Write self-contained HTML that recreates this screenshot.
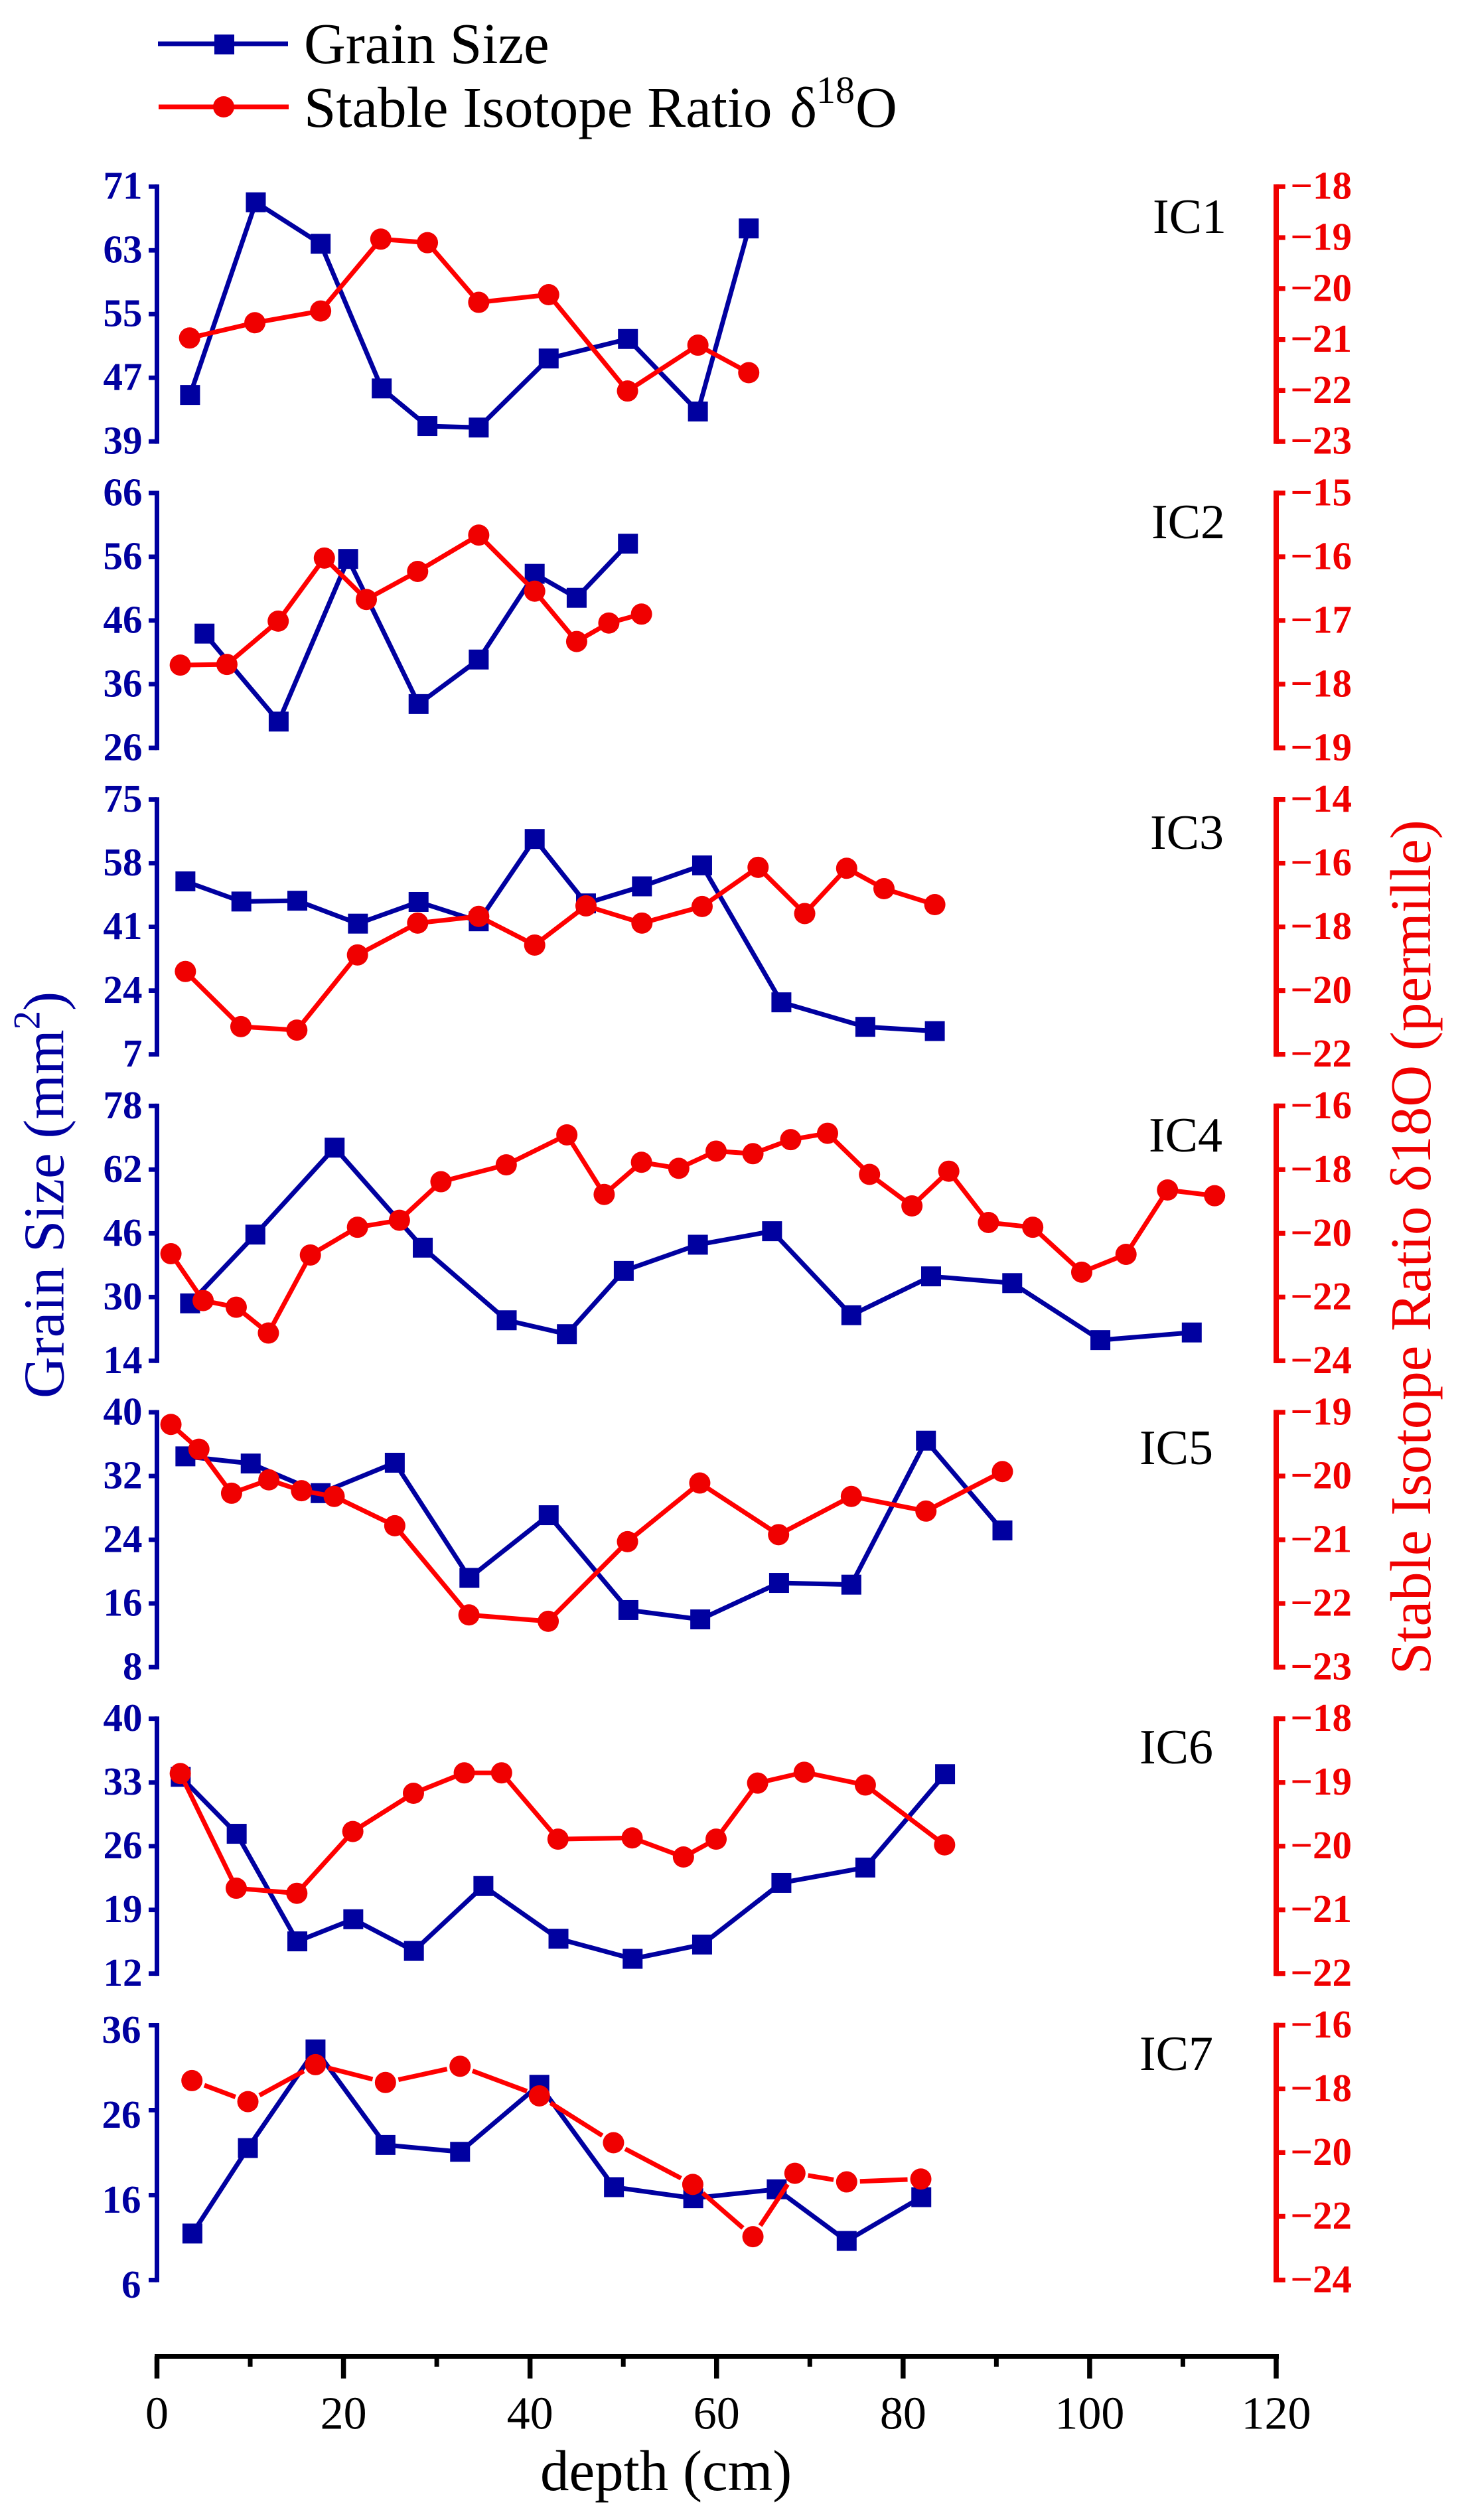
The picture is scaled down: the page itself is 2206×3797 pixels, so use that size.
<!DOCTYPE html>
<html lang="en">
<head>
<meta charset="utf-8">
<title>Grain size and stable isotope ratio by depth</title>
<style>
html,body{margin:0;padding:0;background:#fff;}
svg{display:block;}
text{font-family:"Liberation Serif",serif;}
</style>
</head>
<body>
<svg id="chart" xmlns="http://www.w3.org/2000/svg" width="2206" height="3797" viewBox="0 0 2206 3797">
  <rect x="0" y="0" width="2206" height="3797" fill="#ffffff"/>
  <g>
    <g>
      <line x1="238" x2="434" y1="66" y2="66" stroke="#0000a0" stroke-width="7"/>
      <rect x="323" y="52" width="30" height="30" fill="#0000a0"/>
      <text x="458" y="95" font-size="87" fill="#000">Grain Size</text>
    </g>
    <g>
      <line x1="239" x2="435" y1="161" y2="161" stroke="#ff0000" stroke-width="7"/>
      <circle cx="337" cy="161" r="16" fill="#f00000"/>
      <text x="458" y="191" font-size="87" fill="#000">Stable Isotope Ratio <tspan x="1190">δ</tspan><tspan x="1230" font-size="58" dy="-36">18</tspan><tspan x="1289" dy="36">O</tspan></text>
    </g>
  </g>
  <text transform="translate(95.7 2107) rotate(-90)" font-size="87" fill="#0000a0">Grain Size (mm<tspan font-size="57" dy="-36">2</tspan><tspan dy="36">)</tspan></text>
  <text transform="translate(2155 2523) rotate(-90)" font-size="87" fill="#f00000">Stable Isotope Ratio δ18O (permille)</text>
  <text x="814" y="3752" font-size="87" fill="#000">depth (cm)</text>
  <text x="1737" y="351" font-size="74" fill="#000">IC1</text>
  <text x="1735" y="811" font-size="74" fill="#000">IC2</text>
  <text x="1733" y="1279" font-size="74" fill="#000">IC3</text>
  <text x="1731" y="1735" font-size="74" fill="#000">IC4</text>
  <text x="1717" y="2206" font-size="74" fill="#000">IC5</text>
  <text x="1717" y="2657" font-size="74" fill="#000">IC6</text>
  <text x="1717" y="3119" font-size="74" fill="#000">IC7</text>
  <g id="panels"></g>
  <g id="xaxis"></g>
</svg>
<script>
const depthTicks = [0, 20, 40, 60, 80, 100, 120];
const depthMinorTicks = [10, 30, 50, 70, 90, 110];

const ic1SizeTicks = [71, 63, 55, 47, 39];
const ic1IsoTicks = [-18, -19, -20, -21, -22, -23];
const ic1SizeDepth = [3.55, 10.6, 17.55, 24.1, 29, 34.5, 42, 50.5, 58, 63.45];
const ic1SizeValues = [44.84, 69.03, 63.82, 45.66, 40.93, 40.75, 49.42, 51.87, 42.76, 65.75];
const ic1IsoDepth = [3.5, 10.5, 17.55, 24, 29, 34.5, 42, 50.45, 58, 63.45];
const ic1IsoValues = [-20.97, -20.67, -20.44, -19.03, -19.10, -20.27, -20.12, -22.01, -21.11, -21.65];

const ic2SizeTicks = [66, 56, 46, 36, 26];
const ic2IsoTicks = [-15, -16, -17, -18, -19];
const ic2SizeDepth = [5.1, 13.05, 20.5, 28.05, 34.5, 40.5, 45, 50.5];
const ic2SizeValues = [43.94, 30.13, 55.66, 32.88, 39.87, 53.32, 49.56, 58.05];
const ic2IsoDepth = [2.5, 7.5, 13, 17.95, 22.45, 27.95, 34.5, 40.5, 45, 48.45, 51.95];
const ic2IsoValues = [-17.70, -17.69, -17.01, -16.02, -16.67, -16.23, -15.66, -16.54, -17.33, -17.04, -16.90];

const ic3SizeTicks = [75, 58, 41, 24, 7];
const ic3IsoTicks = [-14, -16, -18, -20, -22];
const ic3SizeDepth = [3.05, 9.05, 15.05, 21.55, 28.05, 34.5, 40.5, 46, 52, 58.45, 66.95, 75.95, 83.4];
const ic3SizeValues = [53.15, 47.77, 47.98, 41.87, 47.66, 42.49, 64.45, 47.27, 51.82, 57.42, 20.88, 14.33, 13.2];
const ic3IsoDepth = [3.05, 9, 15, 21.5, 27.95, 34.5, 40.5, 46, 52, 58.45, 64.45, 69.45, 73.95, 77.95, 83.4];
const ic3IsoValues = [-19.40, -21.13, -21.24, -18.88, -17.88, -17.67, -18.57, -17.34, -17.88, -17.36, -16.13, -17.58, -16.16, -16.80, -17.30];

const ic4SizeTicks = [78, 62, 46, 30, 14];
const ic4IsoTicks = [-16, -18, -20, -22, -24];
const ic4SizeDepth = [3.55, 10.55, 19.05, 28.5, 37.5, 43.95, 50.05, 58, 65.95, 74.45, 83, 91.7, 101.15, 110.95];
const ic4SizeValues = [28.41, 45.68, 67.51, 42.4, 24.17, 20.68, 36.57, 43.14, 46.53, 25.44, 35.19, 33.5, 19.19, 21.1];
const ic4IsoDepth = [1.5, 4.95, 8.5, 11.95, 16.45, 21.5, 26, 30.45, 37.45, 43.95, 47.95, 51.95, 55.95, 59.95, 63.9, 67.95, 71.9, 76.4, 80.95, 84.9, 89.15, 93.9, 99.15, 103.9, 108.35, 113.4];
const ic4IsoValues = [-20.64, -22.11, -22.32, -23.13, -20.68, -19.81, -19.59, -18.38, -17.85, -16.91, -18.78, -17.77, -17.96, -17.42, -17.5, -17.06, -16.86, -18.15, -19.14, -18.05, -19.66, -19.81, -21.22, -20.66, -18.64, -18.82];

const ic5SizeTicks = [40, 32, 24, 16, 8];
const ic5IsoTicks = [-19, -20, -21, -22, -23];
const ic5SizeDepth = [3.05, 10.05, 17.55, 25.5, 33.5, 42, 50.55, 58.25, 66.7, 74.45, 82.45, 90.65];
const ic5SizeValues = [34.47, 33.57, 29.85, 33.67, 19.21, 27.08, 15.17, 14.0, 18.58, 18.36, 36.44, 25.17];
const ic5IsoDepth = [1.5, 4.5, 8, 12, 15.5, 19, 25.5, 33.45, 41.95, 50.45, 58.2, 66.65, 74.45, 82.45, 90.65];
const ic5IsoValues = [-19.19, -19.58, -20.27, -20.06, -20.23, -20.32, -20.78, -22.18, -22.28, -21.03, -20.11, -20.92, -20.32, -20.55, -19.93];

const ic6SizeTicks = [40, 33, 26, 19, 12];
const ic6IsoTicks = [-18, -19, -20, -21, -22];
const ic6SizeDepth = [2.55, 8.55, 15.05, 21.05, 27.55, 35, 43.05, 51, 58.45, 66.95, 75.95, 84.5];
const ic6SizeValues = [33.62, 27.36, 15.54, 17.97, 14.49, 21.62, 15.83, 13.62, 15.19, 21.97, 23.65, 33.91];
const ic6IsoDepth = [2.5, 8.5, 15, 21, 27.5, 32.95, 36.95, 43, 50.95, 56.45, 59.95, 64.4, 69.4, 75.95, 84.45];
const ic6IsoValues = [-18.86, -20.66, -20.74, -19.77, -19.17, -18.85, -18.85, -19.89, -19.87, -20.17, -19.89, -19.01, -18.84, -19.04, -19.98];

const ic7SizeTicks = [36, 26, 16, 6];
const ic7IsoTicks = [-16, -18, -20, -22, -24];
const ic7SizeDepth = [3.8, 9.75, 17, 24.5, 32.5, 41, 49, 57.5, 66.45, 73.95, 81.95];
const ic7SizeValues = [11.47, 21.53, 33.14, 21.9, 21.09, 28.98, 16.93, 15.63, 16.68, 10.6, 15.75];
const ic7IsoDepth = [3.75, 9.75, 17, 24.5, 32.5, 41, 48.95, 57.45, 63.9, 68.4, 73.95, 81.9];
const ic7IsoValues = [-17.74, -18.40, -17.24, -17.80, -17.29, -18.22, -19.69, -21.0, -22.64, -20.65, -20.92, -20.83];

const panels = [
  {name:'ic1', sizeTicks:ic1SizeTicks, isoTicks:ic1IsoTicks, sizeDepth:ic1SizeDepth, sizeValues:ic1SizeValues, isoDepth:ic1IsoDepth, isoValues:ic1IsoValues, gap:0, labelDx:0, labelDy:0},
  {name:'ic2', sizeTicks:ic2SizeTicks, isoTicks:ic2IsoTicks, sizeDepth:ic2SizeDepth, sizeValues:ic2SizeValues, isoDepth:ic2IsoDepth, isoValues:ic2IsoValues, gap:0, labelDx:0, labelDy:0},
  {name:'ic3', sizeTicks:ic3SizeTicks, isoTicks:ic3IsoTicks, sizeDepth:ic3SizeDepth, sizeValues:ic3SizeValues, isoDepth:ic3IsoDepth, isoValues:ic3IsoValues, gap:0, labelDx:0, labelDy:0},
  {name:'ic4', sizeTicks:ic4SizeTicks, isoTicks:ic4IsoTicks, sizeDepth:ic4SizeDepth, sizeValues:ic4SizeValues, isoDepth:ic4IsoDepth, isoValues:ic4IsoValues, gap:0, labelDx:0, labelDy:0},
  {name:'ic5', sizeTicks:ic5SizeTicks, isoTicks:ic5IsoTicks, sizeDepth:ic5SizeDepth, sizeValues:ic5SizeValues, isoDepth:ic5IsoDepth, isoValues:ic5IsoValues, gap:0, labelDx:0, labelDy:0},
  {name:'ic6', sizeTicks:ic6SizeTicks, isoTicks:ic6IsoTicks, sizeDepth:ic6SizeDepth, sizeValues:ic6SizeValues, isoDepth:ic6IsoDepth, isoValues:ic6IsoValues, gap:0, labelDx:0, labelDy:0},
  {name:'ic7', sizeTicks:ic7SizeTicks, isoTicks:ic7IsoTicks, sizeDepth:ic7SizeDepth, sizeValues:ic7SizeValues, isoDepth:ic7IsoDepth, isoValues:ic7IsoValues, gap:20, labelDx:-2, labelDy:8}
];

const NS = 'http://www.w3.org/2000/svg';
const BLUE = '#0000a0';
const RED_LINE = '#ff0000';
const RED = '#f00000';
const PANEL_TOP = 281.2, PANEL_STEP = 461.7, PANEL_H = 384;
const X0 = 236.5, X_PER_CM = 14.054;
const LEFT_AXIS_X = 236.5, RIGHT_AXIS_X = 1923;

function node(parent, tag, attrs, text) {
  const el = document.createElementNS(NS, tag);
  for (const k in attrs) el.setAttribute(k, attrs[k]);
  if (text !== undefined) el.textContent = text;
  parent.appendChild(el);
  return el;
}
function xScale(d) { return X0 + d * X_PER_CM; }
function yScale(ticks, top) {
  const hi = ticks[0], lo = ticks[ticks.length - 1];
  return function (v) { return top + (hi - v) / (hi - lo) * PANEL_H; };
}
function fmtTick(v) { return v < 0 ? '\u2212' + Math.abs(v) : String(v); }

const panelsRoot = document.getElementById('panels');
panels.forEach(function (p, i) {
  const top = PANEL_TOP + PANEL_STEP * i;
  const bottom = top + PANEL_H;
  const ySize = yScale(p.sizeTicks, top);
  const yIso = yScale(p.isoTicks, top);

  const g = node(panelsRoot, 'g', {});
  
  

  const leftAxis = node(g, 'line', {x1:LEFT_AXIS_X, x2:LEFT_AXIS_X, y1:top-3.4, y2:bottom+3.4, stroke:BLUE, 'stroke-width':7});
  
  
  p.sizeTicks.forEach(function (t) {
    const y = ySize(t);
    const tick = node(g, 'line', {x1:224, x2:LEFT_AXIS_X, y1:y, y2:y, stroke:BLUE, 'stroke-width':6.8});
    
    
    const label = node(g, 'text', {x:214.5 + p.labelDx, y:y + 18.5 + p.labelDy, 'text-anchor':'end', 'font-size':59, 'font-weight':'bold', fill:BLUE}, fmtTick(t));
    
    
  });

  const rightAxis = node(g, 'line', {x1:RIGHT_AXIS_X, x2:RIGHT_AXIS_X, y1:top-3.6, y2:bottom+3.6, stroke:RED, 'stroke-width':8});
  
  
  p.isoTicks.forEach(function (t) {
    const y = yIso(t);
    const tick = node(g, 'line', {x1:RIGHT_AXIS_X, x2:1936.7, y1:y, y2:y, stroke:RED, 'stroke-width':7.2});
    
    
    const label = node(g, 'text', {x:2037, y:y + 18.5, 'text-anchor':'end', 'font-size':59, 'font-weight':'bold', fill:RED}, fmtTick(t));
    
    
  });

  const sizePts = p.sizeDepth.map(function (d, k) { return [xScale(d), ySize(p.sizeValues[k])]; });
  const isoPts = p.isoDepth.map(function (d, k) { return [xScale(d), yIso(p.isoValues[k])]; });

  const sizeLine = node(g, 'polyline', {points:sizePts.map(function (q) { return q.join(','); }).join(' '), fill:'none', stroke:BLUE, 'stroke-width':7, 'stroke-linejoin':'miter'});
  
  
  sizePts.forEach(function (q) {
    const m = node(g, 'rect', {x:q[0]-15, y:q[1]-15, width:30, height:30, fill:BLUE});
    
    
  });

  if (p.gap > 0) {
    for (let k = 0; k < isoPts.length - 1; k++) {
      const a = isoPts[k], b = isoPts[k + 1];
      const dx = b[0] - a[0], dy = b[1] - a[1], len = Math.hypot(dx, dy);
      if (len <= 2 * p.gap) continue;
      const ux = dx / len, uy = dy / len;
      const seg = node(g, 'line', {x1:a[0]+ux*p.gap, y1:a[1]+uy*p.gap, x2:b[0]-ux*p.gap, y2:b[1]-uy*p.gap, stroke:RED_LINE, 'stroke-width':7});
      
      
    }
  } else {
    const isoLine = node(g, 'polyline', {points:isoPts.map(function (q) { return q.join(','); }).join(' '), fill:'none', stroke:RED_LINE, 'stroke-width':7, 'stroke-linejoin':'miter'});
    
    
  }
  isoPts.forEach(function (q) {
    const m = node(g, 'circle', {cx:q[0], cy:q[1], r:16, fill:RED});
    
    
  });
});

const xRoot = document.getElementById('xaxis');
const AXIS_Y = 3550.5;
const xLine = node(xRoot, 'line', {x1:xScale(depthTicks[0]) - 3.5, x2:xScale(depthTicks[depthTicks.length - 1]) + 4, y1:AXIS_Y, y2:AXIS_Y, stroke:'#000', 'stroke-width':7});


depthTicks.forEach(function (t) {
  const x = xScale(t);
  const tick = node(xRoot, 'line', {x1:x, x2:x, y1:AXIS_Y, y2:3583.7, stroke:'#000', 'stroke-width':7.5});
  
  
  const label = node(xRoot, 'text', {x:x, y:3659.5, 'text-anchor':'middle', 'font-size':70, fill:'#000'}, String(t));
  
  
});
depthMinorTicks.forEach(function (t) {
  const x = xScale(t);
  const tick = node(xRoot, 'line', {x1:x, x2:x, y1:AXIS_Y, y2:3566, stroke:'#000', 'stroke-width':7});
  
  
});
</script>
</body>
</html>
